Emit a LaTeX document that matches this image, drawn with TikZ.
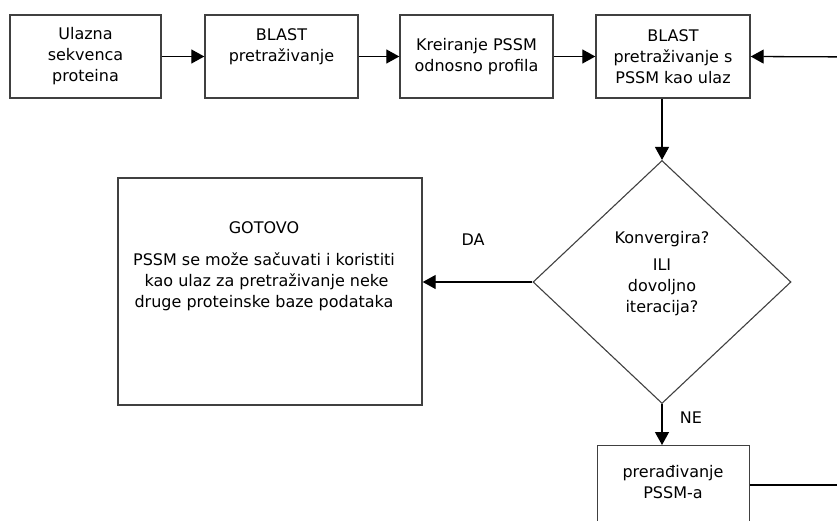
\documentclass[tikz,border=0pt]{standalone}
\usepackage{fontspec}
\setmainfont{DejaVu Sans}
\usetikzlibrary{arrows.meta,shapes.geometric,calc}
\begin{document}
\begin{tikzpicture}[x=1pt,y=-1pt,
  box/.style={draw=black!75,line width=1.4pt,rectangle,inner sep=0pt,align=center,font=\fontsize{16}{21}\selectfont},
  conn/.style={line width=1.3pt,-{Triangle[length=13pt,width=14pt]}},
  line/.style={line width=1.3pt},
  lbl/.style={font=\fontsize{16}{21}\selectfont,inner sep=0pt},
  ]
\useasboundingbox (0,0) rectangle (837,521);
\clip (0,0) rectangle (837,521);
\node[box,minimum width=151pt,minimum height=83pt] (b1) at (85.5,56.5) {Ulazna\\sekvenca\\proteina};
\node[box,minimum width=153pt,minimum height=83pt] (b2) at (281.5,56.5) {BLAST\\pretraživanje\\[2pt]};
\node[box,minimum width=153pt,minimum height=83pt] (b3) at (476.5,56.5) {Kreiranje PSSM\\odnosno profila};
\node[box,minimum width=154pt,minimum height=83pt] (b4) at (673,56.5) {BLAST\\pretraživanje s\\PSSM kao ulaz};
\node[diamond,draw=black!75,line width=1.1pt,minimum width=258pt,minimum height=243pt,inner sep=0pt] (d) at (662,282) {};
\node[lbl,align=center] (dt) at (662,274) {Konvergira?\\[6pt]ILI\\dovoljno\\iteracija?};
\node[box,minimum width=304pt,minimum height=227pt] (g) at (270,291.5) {};
\node[lbl,align=center] (gt1) at (264,228) {GOTOVO};
\node[lbl,align=center] (gt2) at (264,282) {PSSM se može sačuvati i koristiti\\\ kao ulaz za pretraživanje neke\\druge proteinske baze podataka};
\node[box,minimum width=152pt,minimum height=110pt,anchor=north west] (p) at (597,445) {};
\node[lbl,align=center] (pt) at (673,482) {prerađivanje\\PSSM-a};
\node[lbl] (da) at (473,240) {DA};
\node[lbl] (ne) at (691,418) {NE};
\coordinate (r1) at (860,485);
\coordinate (r2) at (860,57);
\draw[conn] (b1) -- (b2);
\draw[conn] (b2) -- (b3);
\draw[conn] (b3) -- (b4);
\draw[conn] (d.north |- b4.south) -- (d.north);
\draw[conn] (d.west) -- (g.east |- d.west);
\draw[conn] (d.south) -- (d.south |- p.north);
\draw[line] ($(p.north east)+(0,40)$) -- (r1) -- (r2);
\draw[conn] (r2) -- (b4.east);
\end{tikzpicture}
\end{document}
